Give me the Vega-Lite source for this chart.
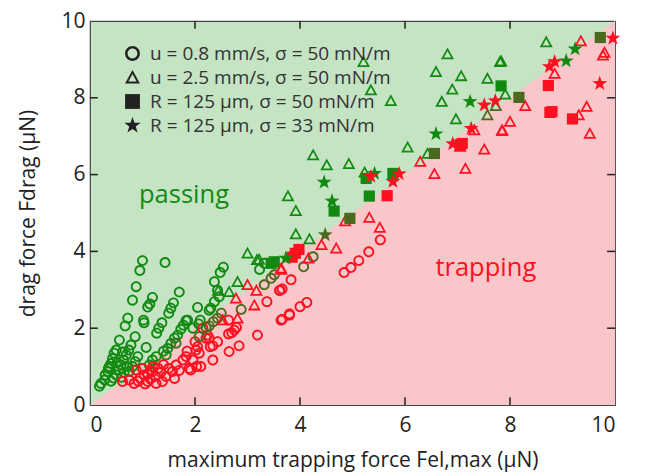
{
  "$schema": "https://vega.github.io/schema/vega-lite/v6.json",
  "width": 525,
  "height": 384,
  "padding": {"left": 17, "top": 10, "right": 8, "bottom": 5},
  "config": {
    "font": "Open Sans",
    "view": {"fill": "#c4e4c4", "stroke": "#444", "strokeWidth": 1.2},
    "axis": {"grid": false, "domain": false, "ticks": false, "zindex": 2, "labelFontSize": 21, "labelColor": "#222", "titleFontSize": 21, "titleColor": "#222", "titleFontWeight": "normal", "labelFont": "Open Sans", "titleFont": "Open Sans"}
  },
  "datasets": {
    "bound": [{"x": 0, "y": 0}, {"x": 10, "y": 10}],
    "tk": [{"v": 2}, {"v": 4}, {"v": 6}, {"v": 8}],
    "notes": [
      {"x": 1.79, "y": 5.47, "t": "passing", "c": "g"},
      {"x": 7.54, "y": 3.57, "t": "trapping", "c": "r"}
    ],
    "pts": [
      {"x":1.00,"y":3.76,"s":"A","c":"g"},{"x":1.43,"y":3.71,"s":"A","c":"g"},{"x":0.95,"y":3.50,"s":"A","c":"g"},{"x":0.88,"y":3.08,"s":"A","c":"g"},
      {"x":0.81,"y":2.73,"s":"A","c":"g"},{"x":1.19,"y":2.80,"s":"A","c":"g"},{"x":1.14,"y":2.63,"s":"A","c":"g"},{"x":1.10,"y":2.55,"s":"A","c":"g"},
      {"x":1.70,"y":2.94,"s":"A","c":"g"},{"x":1.59,"y":2.66,"s":"A","c":"g"},{"x":1.54,"y":2.52,"s":"A","c":"g"},{"x":1.50,"y":2.39,"s":"A","c":"g"},
      {"x":0.72,"y":2.26,"s":"A","c":"g"},{"x":0.67,"y":2.06,"s":"A","c":"g"},{"x":1.02,"y":2.21,"s":"A","c":"g"},{"x":1.03,"y":2.14,"s":"A","c":"g"},
      {"x":1.37,"y":2.14,"s":"A","c":"g"},{"x":1.31,"y":2.00,"s":"A","c":"g"},{"x":1.27,"y":1.87,"s":"A","c":"g"},{"x":1.83,"y":2.20,"s":"A","c":"g"},
      {"x":1.78,"y":2.08,"s":"A","c":"g"},{"x":1.73,"y":1.97,"s":"A","c":"g"},{"x":1.67,"y":1.82,"s":"A","c":"g"},{"x":1.61,"y":1.74,"s":"A","c":"g"},
      {"x":1.54,"y":1.60,"s":"A","c":"g"},{"x":1.48,"y":1.47,"s":"A","c":"g"},{"x":0.56,"y":1.69,"s":"A","c":"g"},{"x":0.86,"y":1.78,"s":"A","c":"g"},
      {"x":1.07,"y":1.50,"s":"A","c":"g"},{"x":0.50,"y":1.43,"s":"A","c":"g"},{"x":0.46,"y":1.35,"s":"A","c":"g"},{"x":0.43,"y":1.21,"s":"A","c":"g"},
      {"x":0.40,"y":1.08,"s":"A","c":"g"},{"x":0.37,"y":1.00,"s":"A","c":"g"},{"x":0.34,"y":0.87,"s":"A","c":"g"},{"x":0.29,"y":0.78,"s":"A","c":"g"},
      {"x":0.21,"y":0.56,"s":"A","c":"g"},{"x":0.18,"y":0.49,"s":"A","c":"g"},{"x":0.78,"y":1.56,"s":"A","c":"g"},{"x":0.74,"y":1.43,"s":"A","c":"g"},
      {"x":0.69,"y":1.30,"s":"A","c":"g"},{"x":0.64,"y":1.17,"s":"A","c":"g"},{"x":0.59,"y":1.04,"s":"A","c":"g"},{"x":0.55,"y":0.91,"s":"A","c":"g"},
      {"x":0.50,"y":0.78,"s":"A","c":"g"},{"x":0.91,"y":1.26,"s":"A","c":"g"},{"x":0.86,"y":1.13,"s":"A","c":"g"},{"x":0.81,"y":1.00,"s":"A","c":"g"},
      {"x":0.75,"y":0.87,"s":"A","c":"g"},{"x":1.26,"y":1.26,"s":"A","c":"g"},{"x":1.19,"y":1.17,"s":"A","c":"g"},{"x":1.13,"y":1.04,"s":"A","c":"g"},
      {"x":1.40,"y":1.40,"s":"A","c":"g"},{"x":1.45,"y":1.30,"s":"A","c":"g"},{"x":0.45,"y":0.70,"s":"A","c":"g"},{"x":0.40,"y":0.62,"s":"A","c":"g"},
      {"x":0.60,"y":0.72,"s":"A","c":"g"},{"x":0.65,"y":0.85,"s":"A","c":"g"},{"x":0.35,"y":0.95,"s":"A","c":"g"},{"x":0.28,"y":0.65,"s":"A","c":"g"},
      {"x":0.52,"y":1.10,"s":"A","c":"g"},{"x":0.70,"y":1.00,"s":"A","c":"g"},{"x":0.62,"y":1.38,"s":"A","c":"g"},
      {"x":2.54,"y":3.59,"s":"A","c":"g"},{"x":2.48,"y":3.45,"s":"A","c":"g"},{"x":2.37,"y":3.21,"s":"A","c":"g"},{"x":2.43,"y":2.99,"s":"A","c":"g"},
      {"x":2.46,"y":2.82,"s":"A","c":"g"},{"x":2.37,"y":2.69,"s":"A","c":"g"},{"x":2.30,"y":2.52,"s":"A","c":"g"},{"x":2.27,"y":2.47,"s":"A","c":"g"},
      {"x":2.05,"y":2.54,"s":"A","c":"g"},{"x":2.10,"y":2.21,"s":"A","c":"g"},{"x":2.07,"y":2.11,"s":"A","c":"g"},{"x":1.96,"y":2.00,"s":"A","c":"g"},
      {"x":1.86,"y":2.21,"s":"A","c":"g"},{"x":3.32,"y":3.69,"s":"A","c":"g"},{"x":3.23,"y":3.53,"s":"A","c":"g"},
      {"x":0.88,"y":0.91,"s":"A","c":"r"},{"x":1.03,"y":0.78,"s":"A","c":"r"},{"x":1.19,"y":0.87,"s":"A","c":"r"},{"x":1.26,"y":0.56,"s":"A","c":"r"},
      {"x":1.45,"y":0.74,"s":"A","c":"r"},{"x":1.57,"y":0.87,"s":"A","c":"r"},{"x":1.64,"y":1.04,"s":"A","c":"r"},{"x":1.77,"y":1.17,"s":"A","c":"r"},
      {"x":1.83,"y":1.26,"s":"A","c":"r"},{"x":1.96,"y":1.17,"s":"A","c":"r"},{"x":1.89,"y":0.95,"s":"A","c":"r"},{"x":2.02,"y":1.43,"s":"A","c":"r"},
      {"x":1.61,"y":0.69,"s":"A","c":"r"},{"x":1.38,"y":0.61,"s":"A","c":"r"},{"x":0.75,"y":0.65,"s":"A","c":"r"},{"x":0.62,"y":0.61,"s":"A","c":"r"},
      {"x":0.84,"y":0.56,"s":"A","c":"r"},{"x":1.10,"y":0.61,"s":"A","c":"r"},{"x":0.95,"y":0.70,"s":"A","c":"r"},{"x":1.00,"y":0.95,"s":"A","c":"r"},
      {"x":1.10,"y":0.80,"s":"A","c":"r"},{"x":1.15,"y":0.68,"s":"A","c":"r"},{"x":1.25,"y":0.75,"s":"A","c":"r"},{"x":1.30,"y":0.95,"s":"A","c":"r"},
      {"x":1.35,"y":0.85,"s":"A","c":"r"},{"x":1.50,"y":0.95,"s":"A","c":"r"},{"x":1.40,"y":1.05,"s":"A","c":"r"},{"x":1.70,"y":0.90,"s":"A","c":"r"},
      {"x":1.20,"y":1.00,"s":"A","c":"r"},{"x":0.92,"y":0.62,"s":"A","c":"r"},{"x":1.05,"y":0.55,"s":"A","c":"r"},{"x":1.15,"y":0.90,"s":"A","c":"r"},
      {"x":2.34,"y":1.17,"s":"A","c":"r"},{"x":2.84,"y":1.54,"s":"A","c":"r"},{"x":2.65,"y":1.39,"s":"A","c":"r"},{"x":3.19,"y":1.82,"s":"A","c":"r"},
      {"x":2.79,"y":2.02,"s":"A","c":"r"},{"x":2.75,"y":1.95,"s":"A","c":"r"},{"x":2.70,"y":1.88,"s":"A","c":"r"},{"x":2.64,"y":1.85,"s":"A","c":"r"},
      {"x":2.64,"y":2.21,"s":"A","c":"r"},{"x":2.43,"y":1.65,"s":"A","c":"r"},{"x":2.34,"y":1.54,"s":"A","c":"r"},{"x":2.29,"y":1.52,"s":"A","c":"r"},
      {"x":2.24,"y":1.82,"s":"A","c":"r"},{"x":2.21,"y":1.74,"s":"A","c":"r"},{"x":2.08,"y":1.35,"s":"A","c":"r"},{"x":2.05,"y":1.52,"s":"A","c":"r"},
      {"x":2.11,"y":1.00,"s":"A","c":"r"},{"x":2.03,"y":1.00,"s":"A","c":"r"},{"x":1.92,"y":0.91,"s":"A","c":"r"},{"x":2.27,"y":1.74,"s":"A","c":"r"},
      {"x":3.37,"y":2.69,"s":"A","c":"r"},{"x":3.62,"y":2.99,"s":"A","c":"r"},{"x":3.66,"y":3.02,"s":"A","c":"r"},{"x":3.83,"y":3.26,"s":"A","c":"r"},
      {"x":3.80,"y":2.34,"s":"A","c":"r"},{"x":3.66,"y":2.23,"s":"A","c":"r"},{"x":5.53,"y":4.30,"s":"A","c":"r"},{"x":5.31,"y":3.99,"s":"A","c":"r"},
      {"x":5.12,"y":3.76,"s":"A","c":"r"},{"x":4.97,"y":3.58,"s":"A","c":"r"},{"x":4.84,"y":3.45,"s":"A","c":"r"},{"x":4.13,"y":2.67,"s":"A","c":"r"},
      {"x":4.00,"y":2.56,"s":"A","c":"r"},{"x":3.80,"y":2.37,"s":"A","c":"r"},{"x":3.64,"y":2.21,"s":"A","c":"r"},{"x":3.61,"y":2.98,"s":"A","c":"r"},
      {"x":2.15,"y":2.00,"s":"A","c":"r"},{"x":2.00,"y":1.65,"s":"A","c":"r"},{"x":1.85,"y":1.40,"s":"A","c":"r"},
      {"x":2.50,"y":2.39,"s":"A","c":"o"},{"x":2.43,"y":2.26,"s":"A","c":"o"},{"x":2.35,"y":2.17,"s":"A","c":"o"},{"x":2.27,"y":2.06,"s":"A","c":"o"},
      {"x":2.21,"y":2.02,"s":"A","c":"o"},{"x":2.88,"y":2.49,"s":"A","c":"o"},{"x":3.32,"y":3.13,"s":"A","c":"o"},{"x":3.45,"y":3.30,"s":"A","c":"o"},
      {"x":3.51,"y":3.39,"s":"A","c":"o"},{"x":2.08,"y":1.78,"s":"A","c":"o"},{"x":4.25,"y":3.86,"s":"A","c":"o"},{"x":4.07,"y":3.60,"s":"A","c":"o"},
      {"x":1.64,"y":1.61,"s":"A","c":"o"},
      {"x":3.00,"y":3.95,"s":"B","c":"g"},{"x":3.18,"y":3.78,"s":"B","c":"g"},{"x":2.81,"y":3.21,"s":"B","c":"g"},{"x":2.65,"y":2.95,"s":"B","c":"g"},
      {"x":2.44,"y":2.98,"s":"B","c":"g"},{"x":4.25,"y":6.51,"s":"B","c":"g"},{"x":4.51,"y":6.25,"s":"B","c":"g"},{"x":4.93,"y":6.28,"s":"B","c":"g"},
      {"x":3.77,"y":5.44,"s":"B","c":"g"},{"x":3.92,"y":5.06,"s":"B","c":"g"},{"x":3.92,"y":4.45,"s":"B","c":"g"},{"x":4.18,"y":4.32,"s":"B","c":"g"},
      {"x":5.23,"y":6.06,"s":"B","c":"g"},{"x":6.81,"y":9.14,"s":"B","c":"g"},{"x":6.59,"y":8.68,"s":"B","c":"g"},{"x":7.07,"y":8.57,"s":"B","c":"g"},
      {"x":6.90,"y":8.22,"s":"B","c":"g"},{"x":7.57,"y":8.50,"s":"B","c":"g"},{"x":7.81,"y":8.94,"s":"B","c":"g"},{"x":6.70,"y":7.90,"s":"B","c":"g"},
      {"x":5.73,"y":7.92,"s":"B","c":"g"},{"x":6.97,"y":7.45,"s":"B","c":"g"},{"x":6.05,"y":6.71,"s":"B","c":"g"},{"x":6.43,"y":6.55,"s":"B","c":"g"},
      {"x":8.69,"y":9.45,"s":"B","c":"g"},{"x":7.83,"y":8.96,"s":"B","c":"g"},{"x":7.91,"y":8.09,"s":"B","c":"g"},{"x":5.21,"y":8.94,"s":"B","c":"g"},
      {"x":5.35,"y":8.20,"s":"B","c":"g"},{"x":3.22,"y":3.79,"s":"B","c":"g"},
      {"x":3.00,"y":3.13,"s":"B","c":"r"},{"x":2.78,"y":2.78,"s":"B","c":"r"},{"x":3.17,"y":2.98,"s":"B","c":"r"},{"x":3.13,"y":2.60,"s":"B","c":"r"},
      {"x":2.81,"y":2.26,"s":"B","c":"r"},{"x":3.64,"y":3.53,"s":"B","c":"r"},{"x":2.53,"y":2.21,"s":"B","c":"r"},{"x":4.86,"y":4.79,"s":"B","c":"r"},
      {"x":5.32,"y":4.88,"s":"B","c":"r"},{"x":5.52,"y":4.62,"s":"B","c":"r"},{"x":4.41,"y":4.17,"s":"B","c":"r"},{"x":4.69,"y":4.08,"s":"B","c":"r"},
      {"x":4.16,"y":3.82,"s":"B","c":"r"},{"x":3.64,"y":3.56,"s":"B","c":"r"},{"x":6.29,"y":6.34,"s":"B","c":"r"},{"x":6.56,"y":6.02,"s":"B","c":"r"},
      {"x":7.15,"y":6.16,"s":"B","c":"r"},{"x":7.51,"y":6.66,"s":"B","c":"r"},{"x":7.85,"y":7.16,"s":"B","c":"r"},{"x":7.05,"y":6.73,"s":"B","c":"r"},
      {"x":7.32,"y":7.16,"s":"B","c":"r"},{"x":9.35,"y":9.48,"s":"B","c":"r"},{"x":8.85,"y":8.63,"s":"B","c":"r"},{"x":8.29,"y":7.79,"s":"B","c":"r"},
      {"x":8.00,"y":7.38,"s":"B","c":"r"},{"x":7.85,"y":7.14,"s":"B","c":"r"},{"x":9.46,"y":7.77,"s":"B","c":"r"},{"x":9.31,"y":7.55,"s":"B","c":"r"},
      {"x":9.52,"y":7.07,"s":"B","c":"r"},{"x":9.77,"y":9.11,"s":"B","c":"r"},{"x":9.80,"y":9.18,"s":"B","c":"r"},
      {"x":7.57,"y":7.55,"s":"B","c":"o"},{"x":7.73,"y":7.79,"s":"B","c":"o"},
      {"x":4.65,"y":5.05,"s":"C","c":"g"},{"x":5.32,"y":5.44,"s":"C","c":"g"},{"x":5.77,"y":6.03,"s":"C","c":"g"},{"x":5.26,"y":5.90,"s":"C","c":"g"},
      {"x":7.83,"y":8.31,"s":"C","c":"g"},{"x":3.45,"y":3.69,"s":"C","c":"g"},{"x":3.51,"y":3.73,"s":"C","c":"g"},
      {"x":4.95,"y":4.86,"s":"C","c":"o"},{"x":6.56,"y":6.55,"s":"C","c":"o"},{"x":8.17,"y":8.01,"s":"C","c":"o"},{"x":9.72,"y":9.57,"s":"C","c":"o"},
      {"x":5.66,"y":5.45,"s":"C","c":"r"},{"x":3.98,"y":4.05,"s":"C","c":"r"},{"x":3.91,"y":3.95,"s":"C","c":"r"},{"x":3.85,"y":3.85,"s":"C","c":"r"},
      {"x":7.09,"y":6.81,"s":"C","c":"r"},{"x":8.73,"y":8.32,"s":"C","c":"r"},{"x":8.76,"y":7.62,"s":"C","c":"r"},{"x":8.80,"y":7.64,"s":"C","c":"r"},
      {"x":9.19,"y":7.45,"s":"C","c":"r"},{"x":7.05,"y":6.78,"s":"C","c":"r"},
      {"x":4.46,"y":5.80,"s":"D","c":"g"},{"x":4.61,"y":5.31,"s":"D","c":"g"},{"x":5.42,"y":6.03,"s":"D","c":"g"},{"x":7.24,"y":7.90,"s":"D","c":"g"},
      {"x":6.59,"y":7.06,"s":"D","c":"g"},{"x":9.24,"y":9.27,"s":"D","c":"g"},{"x":9.07,"y":8.96,"s":"D","c":"g"},{"x":3.73,"y":3.82,"s":"D","c":"g"},
      {"x":4.48,"y":4.43,"s":"D","c":"o"},
      {"x":5.77,"y":5.82,"s":"D","c":"r"},{"x":5.35,"y":5.95,"s":"D","c":"r"},{"x":7.51,"y":7.81,"s":"D","c":"r"},{"x":7.72,"y":7.92,"s":"D","c":"r"},
      {"x":7.26,"y":7.20,"s":"D","c":"r"},{"x":6.91,"y":6.80,"s":"D","c":"r"},{"x":5.89,"y":6.02,"s":"D","c":"r"},{"x":8.75,"y":8.81,"s":"D","c":"r"},
      {"x":8.85,"y":8.94,"s":"D","c":"r"},{"x":9.96,"y":9.55,"s":"D","c":"r"},{"x":9.71,"y":8.37,"s":"D","c":"r"}
    ]
  },
  "layer": [
    {
      "data": {"name": "bound"},
      "mark": {"type": "area", "color": "#f9c6c9"},
      "encoding": {
        "x": {"field": "x", "type": "quantitative", "scale": {"domain": [0, 10], "nice": false}, "axis": {"values": [0, 2, 4, 6, 8, 10], "title": "maximum trapping force Fel,max  (μN)", "labelPadding": 9, "titlePadding": 14}},
        "y": {"field": "y", "type": "quantitative", "scale": {"domain": [0, 10], "nice": false}, "axis": {"values": [0, 2, 4, 6, 8, 10], "title": "drag force Fdrag  (μN)", "labelPadding": 5, "titlePadding": 22}},
        "y2": {"datum": 0}
      }
    },
    {
      "data": {"name": "tk"},
      "mark": {"type": "rule", "color": "#222", "strokeWidth": 1.5},
      "encoding": {
        "x": {"field": "v", "type": "quantitative", "axis": null},
        "y": {"datum": 0, "type": "quantitative", "axis": null},
        "y2": {"datum": 0.2}
      }
    },
    {
      "data": {"name": "tk"},
      "mark": {"type": "rule", "color": "#222", "strokeWidth": 1.5},
      "encoding": {
        "x": {"field": "v", "type": "quantitative", "axis": null},
        "y": {"datum": 10, "type": "quantitative", "axis": null},
        "y2": {"datum": 9.8}
      }
    },
    {
      "data": {"name": "tk"},
      "mark": {"type": "rule", "color": "#222", "strokeWidth": 1.5},
      "encoding": {
        "y": {"field": "v", "type": "quantitative", "axis": null},
        "x": {"datum": 0, "type": "quantitative", "axis": null},
        "x2": {"datum": 0.15}
      }
    },
    {
      "data": {"name": "tk"},
      "mark": {"type": "rule", "color": "#222", "strokeWidth": 1.5},
      "encoding": {
        "y": {"field": "v", "type": "quantitative", "axis": null},
        "x": {"datum": 10, "type": "quantitative", "axis": null},
        "x2": {"datum": 9.85}
      }
    },
    {
      "data": {"name": "pts"},
      "mark": {"type": "point", "filled": true, "strokeWidth": 0, "opacity": 1},
      "encoding": {
        "x": {"field": "x", "type": "quantitative", "axis": null},
        "y": {"field": "y", "type": "quantitative", "axis": null},
        "shape": {
          "field": "s", "type": "nominal",
          "scale": {"domain": ["A", "B", "C", "D"], "range": [
            "M-1,0A1,1,0,1,1,1,0A1,1,0,1,1,-1,0ZM-0.66,0A0.66,0.66,0,1,0,0.66,0A0.66,0.66,0,1,0,-0.66,0Z",
            "M0,-1L1,0.8L-1,0.8ZM0,-0.46L-0.55,0.53L0.55,0.53Z",
            "square",
            "M0,-1.15L0.27,-0.37L1.1,-0.36L0.44,0.14L0.68,0.93L0,0.46L-0.68,0.93L-0.44,0.14L-1.1,-0.36L-0.27,-0.37Z"]},
          "legend": {
            "orient": "none", "legendX": 33, "legendY": 23, "title": null, "labelLimit": 0,
            "labelExpr": "datum.value == 'A' ? 'u = 0.8 mm/s, σ = 50 mN/m' : datum.value == 'B' ? 'u = 2.5 mm/s, σ = 50 mN/m' : datum.value == 'C' ? 'R = 125 μm, σ = 50 mN/m' : 'R = 125 μm, σ = 33 mN/m'",
            "labelFontSize": 19, "labelColor": "#333", "labelFont": "Open Sans", "labelOffset": 8,
            "symbolSize": 220, "symbolStrokeWidth": 0, "symbolFillColor": "#222", "rowPadding": 4
          }
        },
        "size": {"condition": [{"test": "datum.s == 'D'", "value": 185}, {"test": "datum.s == 'C'", "value": 125}, {"test": "datum.s == 'B'", "value": 170}], "value": 120},
        "fill": {"field": "c", "type": "nominal", "scale": {"domain": ["g", "r", "o"], "range": ["#128a12", "#ff1020", "#4a6a1e"]}, "legend": null}
      }
    },
    {
      "data": {"name": "notes"},
      "mark": {"type": "text", "fontSize": 25.5, "font": "Open Sans"},
      "encoding": {
        "x": {"field": "x", "type": "quantitative", "axis": null},
        "y": {"field": "y", "type": "quantitative", "axis": null},
        "text": {"field": "t"},
        "color": {"field": "c", "type": "nominal", "scale": {"domain": ["g", "r"], "range": ["#128a12", "#ff1020"]}, "legend": null}
      }
    }
  ],
  "resolve": {"axis": {"x": "independent", "y": "independent"}}
}
